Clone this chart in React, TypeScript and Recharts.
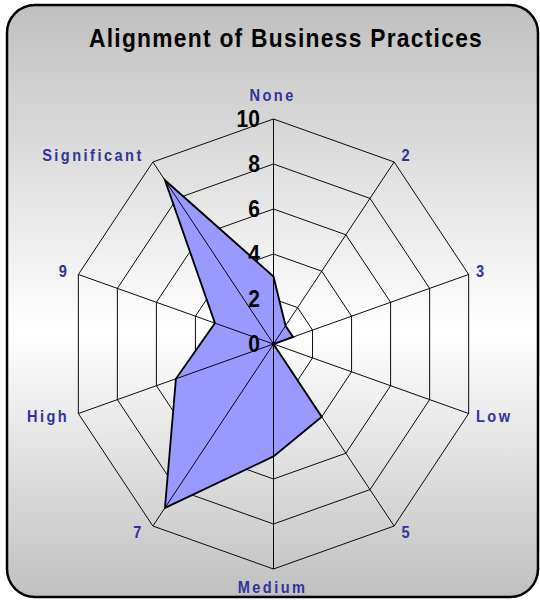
import React from "react";
import {
  PolarAngleAxis,
  PolarGrid,
  PolarRadiusAxis,
  Radar,
  RadarChart,
} from "recharts";

// Chart data
const categories = ["None", "2", "3", "Low", "5", "Medium", "7", "High", "9", "Significant"];
const alignment = [3, 1, 1, 0, 4, 5, 9, 5, 3, 9];
const valueTicks = [0, 2, 4, 6, 8, 10];
const title = "Alignment of Business Practices";

const rows = categories.map((cat, i) => ({ cat, value: alignment[i] }));

// The original is a little narrower than it is tall, text included.
const SX = 0.912;
const W = 540;
const H = 600;
const CX = 273.5;
const CY = 344;
const R = 225;
const FONT = "'Liberation Sans', Arial, Helvetica, sans-serif";
const LABEL = "#333399";
const FILL = "#9999ff";

function CategoryTick(props: any) {
  const { x, y, payload } = props;
  const dx = x - CX;
  const dy = y - CY;
  const len = Math.hypot(dx, dy) || 1;
  const cosA = dx / len;
  const sinA = -dy / len;
  const vx = CX + cosA * R;
  const vy = CY - sinA * R;

  let anchor: "start" | "middle" | "end" = "middle";
  let ox = 0;
  let oy = 0;
  if (Math.abs(cosA) < 0.1) {
    ox = -1;
    oy = sinA > 0 ? -18 : 24;
  } else {
    anchor = cosA > 0 ? "start" : "end";
    ox = cosA > 0 ? 8 : -10;
    oy = 5 - 7 * sinA + (sinA < 0 ? 1.5 : 0);
  }
  return (
    <text
      x={vx + ox}
      y={vy + oy}
      textAnchor={anchor}
      fontFamily={FONT}
      fontSize={16}
      fontWeight="bold"
      letterSpacing={2.7}
      fill={LABEL}
    >
      {payload.value}
    </text>
  );
}

function ValueTick(props: any) {
  const { x, y, payload } = props;
  return (
    <text
      x={x - 15}
      y={y + 8}
      textAnchor="end"
      fontFamily={FONT}
      fontSize={23}
      fontWeight="bold"
      fill="#000"
    >
      {payload.value}
    </text>
  );
}

const layer: React.CSSProperties = { position: "absolute", left: 0, top: 0 };

export default function App() {
  const maxV = valueTicks[valueTicks.length - 1];
  return (
    <div style={{ position: "absolute", left: 0, top: 0, width: W, height: H, background: "#fff" }}>
      <svg width={W} height={H} style={layer}>
        <defs>
          <linearGradient id="panelBg" x1="0" y1="0" x2="0" y2="1">
            <stop offset="0" stopColor="#c0c0c0" />
            <stop offset="0.55" stopColor="#ffffff" />
            <stop offset="1" stopColor="#c0c0c0" />
          </linearGradient>
        </defs>
        <rect x={7} y={5} width={531} height={592} rx={28} ry={28} fill="url(#panelBg)" stroke="#000" strokeWidth={2.5} />
        <text
          transform={`translate(286 47) scale(${SX} 1)`}
          textAnchor="middle"
          fontFamily={FONT}
          fontSize={25}
          fontWeight="bold"
          letterSpacing={1.4}
          fill="#000"
        >
          {title}
        </text>
      </svg>

      <div style={{ ...layer, width: W, height: H, transform: `scaleX(${SX})`, transformOrigin: `${CX}px 0` }}>
        {/* rings and the filled series */}
        <div style={layer}>
          <RadarChart width={W} height={H} cx={CX} cy={CY} outerRadius={R} data={rows} margin={{ top: 0, right: 0, bottom: 0, left: 0 }}>
            <PolarGrid gridType="polygon" radialLines={false} stroke="#000" strokeWidth={1} strokeOpacity={1} />
            <PolarAngleAxis dataKey="cat" tick={false} tickLine={false} axisLine={false} />
            <PolarRadiusAxis angle={90} domain={[0, maxV]} tickCount={valueTicks.length} tick={false} axisLine={false} />
            <Radar dataKey="value" stroke="#000" strokeWidth={2} fill={FILL} fillOpacity={1} dot={false} isAnimationActive={false} />
          </RadarChart>
        </div>
        {/* spokes and labels drawn over the fill */}
        <div style={layer}>
          <RadarChart width={W} height={H} cx={CX} cy={CY} outerRadius={R} data={rows} margin={{ top: 0, right: 0, bottom: 0, left: 0 }}>
            <PolarGrid gridType="polygon" polarRadius={[]} radialLines stroke="#000" strokeWidth={1} strokeOpacity={1} />
            <PolarAngleAxis dataKey="cat" tick={(p: any) => <CategoryTick {...p} />} tickLine={false} axisLine={false} />
            <PolarRadiusAxis
              angle={90}
              domain={[0, maxV]}
              tickCount={valueTicks.length}
              tick={(p: any) => <ValueTick {...p} />}
              axisLine={false}
              tickLine={false}
            />
            <Radar dataKey="value" stroke="none" fill="none" dot={false} isAnimationActive={false} />
          </RadarChart>
        </div>
      </div>
    </div>
  );
}
